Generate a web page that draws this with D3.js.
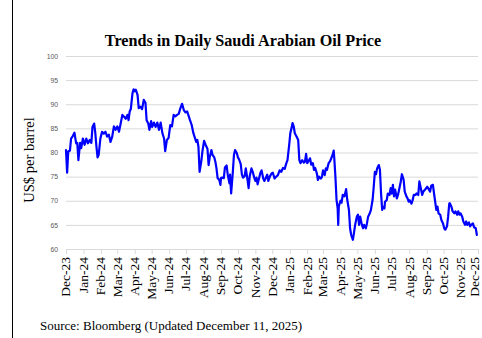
<!DOCTYPE html>
<html>
<head>
<meta charset="utf-8">
<script src="https://cdn.jsdelivr.net/npm/d3@7"></script>
<style>
  html, body { margin: 0; padding: 0; background: #fff; }
  svg { display: block; }
</style>
</head>
<body>
<svg id="chart" width="482" height="338"></svg>
<script>
// Daily Saudi Arabian oil price, US$ per barrel
const dates = [
  "2023-12-01","2023-12-03","2023-12-05","2023-12-08","2023-12-10","2023-12-13","2023-12-16","2023-12-19","2023-12-21","2023-12-23","2023-12-26","2023-12-28","2023-12-31",
  "2024-01-03","2024-01-06","2024-01-09","2024-01-12","2024-01-15","2024-01-17","2024-01-20","2024-01-22","2024-01-24","2024-01-26","2024-01-28","2024-01-31",
  "2024-02-03","2024-02-06","2024-02-09","2024-02-12","2024-02-15","2024-02-18","2024-02-21","2024-02-24","2024-02-27",
  "2024-03-01","2024-03-04","2024-03-07","2024-03-10","2024-03-13","2024-03-16","2024-03-19","2024-03-21","2024-03-23","2024-03-25","2024-03-28","2024-03-30",
  "2024-04-01","2024-04-03","2024-04-06","2024-04-08","2024-04-11","2024-04-14","2024-04-17","2024-04-20","2024-04-22","2024-04-25","2024-04-27","2024-04-30",
  "2024-05-02","2024-05-05","2024-05-08","2024-05-11","2024-05-14","2024-05-17","2024-05-20","2024-05-23","2024-05-25","2024-05-28","2024-05-31",
  "2024-06-03","2024-06-06","2024-06-09","2024-06-12","2024-06-15","2024-06-18","2024-06-21","2024-06-24","2024-06-27","2024-06-30",
  "2024-07-03","2024-07-05","2024-07-08","2024-07-11","2024-07-14","2024-07-16","2024-07-19","2024-07-21","2024-07-23","2024-07-25","2024-07-28","2024-07-30",
  "2024-08-02","2024-08-05","2024-08-08","2024-08-10","2024-08-12","2024-08-15","2024-08-17","2024-08-20","2024-08-22","2024-08-24","2024-08-26","2024-08-29","2024-08-31",
  "2024-09-01","2024-09-03","2024-09-06","2024-09-08","2024-09-11","2024-09-13","2024-09-16","2024-09-17","2024-09-19","2024-09-22","2024-09-24","2024-09-26","2024-09-29",
  "2024-10-01","2024-10-03","2024-10-06","2024-10-08","2024-10-10","2024-10-13","2024-10-15","2024-10-18","2024-10-20","2024-10-22","2024-10-25","2024-10-27","2024-10-30",
  "2024-11-01","2024-11-03","2024-11-05","2024-11-07","2024-11-10","2024-11-12","2024-11-15","2024-11-17","2024-11-19","2024-11-22","2024-11-24","2024-11-27","2024-11-30",
  "2024-12-02","2024-12-05","2024-12-08","2024-12-11","2024-12-14","2024-12-17","2024-12-20","2024-12-23","2024-12-26","2024-12-28","2024-12-31",
  "2025-01-02","2025-01-04","2025-01-06","2025-01-08","2025-01-10","2025-01-13","2025-01-16","2025-01-18","2025-01-20","2025-01-23","2025-01-26","2025-01-28","2025-01-30",
  "2025-02-01","2025-02-04","2025-02-06","2025-02-08","2025-02-11","2025-02-13","2025-02-15","2025-02-18","2025-02-20","2025-02-22","2025-02-25","2025-02-27",
  "2025-03-01","2025-03-04","2025-03-06","2025-03-08","2025-03-11","2025-03-13","2025-03-15","2025-03-18","2025-03-20","2025-03-21","2025-03-23","2025-03-25","2025-03-27","2025-03-28","2025-03-29",
  "2025-04-01","2025-04-03","2025-04-05","2025-04-08","2025-04-11","2025-04-13","2025-04-16","2025-04-18","2025-04-20","2025-04-23","2025-04-25","2025-04-27","2025-04-30",
  "2025-05-02","2025-05-04","2025-05-06","2025-05-09","2025-05-11","2025-05-13","2025-05-16","2025-05-18","2025-05-20","2025-05-23","2025-05-25","2025-05-28","2025-05-30",
  "2025-06-01","2025-06-03","2025-06-05","2025-06-08","2025-06-10","2025-06-12","2025-06-14","2025-06-15","2025-06-18","2025-06-19","2025-06-22","2025-06-24","2025-06-27","2025-06-29",
  "2025-07-01","2025-07-03","2025-07-05","2025-07-07","2025-07-10","2025-07-12","2025-07-14","2025-07-17","2025-07-19","2025-07-22","2025-07-24","2025-07-27","2025-07-29","2025-07-31",
  "2025-08-02","2025-08-05","2025-08-07","2025-08-09","2025-08-12","2025-08-14","2025-08-17","2025-08-19","2025-08-21","2025-08-24","2025-08-26","2025-08-29","2025-08-31",
  "2025-09-02","2025-09-05","2025-09-07","2025-09-09","2025-09-12","2025-09-14","2025-09-16","2025-09-18","2025-09-20","2025-09-22","2025-09-25","2025-09-27","2025-09-30",
  "2025-10-02","2025-10-04","2025-10-07","2025-10-09","2025-10-11","2025-10-12","2025-10-15","2025-10-17","2025-10-20","2025-10-22","2025-10-25","2025-10-27","2025-10-29","2025-10-31",
  "2025-11-03","2025-11-05","2025-11-08","2025-11-10","2025-11-12","2025-11-15","2025-11-17","2025-11-19","2025-11-22","2025-11-24","2025-11-27","2025-11-29"
];
const prices = [
  80.5,75.8,80.2,80.4,82.9,83.4,84.1,81.9,82.0,78.4,82.0,80.9,82.9,
  81.6,82.9,81.9,82.6,82.0,85.3,86.0,84.0,81.2,79.0,79.5,82.9,
  84.3,83.9,84.3,83.3,83.7,82.2,83.3,85.4,84.7,
  85.4,84.3,86.0,87.8,87.4,87.0,87.8,86.7,88.5,89.0,92.3,93.1,
  92.7,93.0,91.9,89.2,89.5,89.0,90.9,90.3,86.7,86.0,84.7,86.5,
  85.3,86.2,85.3,86.2,84.7,86.2,84.0,82.9,80.3,82.6,83.0,
  85.7,85.4,87.8,87.5,87.8,88.0,89.2,90.1,88.8,88.3,
  88.5,87.8,86.7,85.7,84.0,83.3,82.2,82.6,81.2,76.0,78.1,80.2,
  82.4,81.5,80.8,77.4,79.0,80.5,79.5,79.0,78.1,76.7,74.7,74.3,73.3,
  74.7,74.8,74.7,76.9,77.3,75.4,73.6,75.4,71.5,76.0,79.5,80.5,79.9,
  79.0,78.6,77.6,75.5,74.8,75.1,76.7,74.4,72.6,75.1,76.7,76.1,74.8,
  74.1,74.8,73.4,74.4,75.8,76.3,74.6,74.1,74.6,75.4,74.1,75.1,75.7,
  75.8,74.6,75.0,75.3,76.3,76.0,76.8,76.6,77.8,78.4,81.6,
  84.0,85.0,86.1,85.4,84.0,83.3,82.6,78.4,77.8,78.4,77.9,78.1,79.7,
  77.8,78.4,78.8,77.5,77.8,76.4,76.8,75.7,74.3,75.0,74.6,74.9,
  76.3,75.3,76.7,76.4,77.8,78.1,78.6,79.5,80.4,78.8,75.0,70.2,68.4,65.0,68.8,
  70.0,69.6,71.2,70.9,72.4,70.2,68.1,64.3,62.9,61.9,63.4,65.0,66.7,
  67.1,65.0,66.7,65.0,64.3,65.0,64.3,65.3,66.7,67.4,68.1,70.2,72.9,
  76.0,75.5,76.7,77.4,76.4,71.5,68.1,68.8,68.4,69.8,70.1,71.5,71.2,72.6,
  71.5,73.3,70.9,72.3,70.5,71.2,72.3,74.0,75.5,74.4,71.9,70.9,70.5,69.8,
  70.1,69.4,70.1,71.2,71.2,71.5,71.2,74.0,72.9,71.2,71.9,72.3,72.6,
  72.9,72.3,71.9,73.1,73.3,71.5,69.8,68.1,68.8,67.4,67.1,66.0,65.3,
  64.3,64.0,64.7,66.7,69.4,69.5,68.7,67.8,67.4,67.8,67.1,67.8,67.1,67.4,
  66.7,65.7,65.0,65.7,65.0,65.5,64.7,65.0,65.3,64.5,64.3,62.9
];

// Axis labels
const monthLabels = ["Dec-23","Jan-24","Feb-24","Mar-24","Apr-24","May-24","Jun-24","Jul-24","Aug-24","Sep-24","Oct-24","Nov-24",
                     "Dec-24","Jan-25","Feb-25","Mar-25","Apr-25","May-25","Jun-25","Jul-25","Aug-25","Sep-25","Oct-25","Nov-25","Dec-25"];
const yTicks = [60, 65, 70, 75, 80, 85, 90, 95, 100];

const titleText = "Trends in Daily Saudi Arabian Oil Price";
const yLabelText = "US$ per barrel";
const sourceText = "Source: Bloomberg (Updated December 11, 2025)";

const parseDay = d3.timeParse("%Y-%m-%d");
const parseMonth = d3.timeParse("%b-%y");
const series = dates.map((d, i) => ({ date: parseDay(d), value: prices[i] }));
const monthDates = monthLabels.map(parseMonth);

const svg = d3.select("#chart");
const serif = "'Liberation Serif', 'Times New Roman', serif";

// Plot frame
const plot = { left: 66, right: 478, top: 56, bottom: 249 };

const x = d3.scaleTime()
  .domain([monthDates[0], monthDates[monthDates.length - 1]])
  .range([plot.left, plot.right]);

const y = d3.scaleLinear()
  .domain([60, 100])
  .range([plot.bottom, plot.top]);

// Left page rule
svg.append("line")
  .attr("x1", 12.5).attr("x2", 12.5)
  .attr("y1", 0).attr("y2", 338)
  .attr("stroke", "#000").attr("stroke-width", 1);

// Horizontal gridlines with value labels
const yAxis = d3.axisLeft(y)
  .tickValues(yTicks)
  .tickSize(-(plot.right - plot.left))
  .tickPadding(8);

const gy = svg.append("g")
  .attr("transform", `translate(${plot.left},0)`)
  .call(yAxis);
gy.select(".domain").remove();
gy.selectAll(".tick line")
  .attr("stroke", "#d9d9d9")
  .attr("stroke-width", 1);
gy.selectAll(".tick text")
  .attr("fill", "#595959")
  .style("font-family", "'Liberation Sans', Arial, sans-serif")
  .style("font-size", "6.8px");

// Month axis with rotated labels
const xAxis = d3.axisBottom(x)
  .tickValues(monthDates)
  .tickFormat((d, i) => monthLabels[i])
  .tickSize(5)
  .tickPadding(4);

const gx = svg.append("g")
  .attr("transform", `translate(0,${plot.bottom})`)
  .call(xAxis);
gx.select(".domain")
  .attr("stroke", "#d9d9d9");
gx.selectAll(".tick line")
  .attr("stroke", "#d9d9d9");
gx.selectAll(".tick text")
  .attr("fill", "#000")
  .style("font-family", serif)
  .style("font-size", "13.5px")
  .attr("text-anchor", "end")
  .attr("transform", "rotate(-90)")
  .attr("x", -8)
  .attr("y", 0)
  // last label sits on the right edge, nudge it inward so it stays whole
  .attr("dy", (d, i) => i === monthLabels.length - 1 ? "0.05em" : "0.28em");

// Price line
const line = d3.line()
  .x(d => x(d.date))
  .y(d => y(d.value));

svg.append("path")
  .datum(series)
  .attr("fill", "none")
  .attr("stroke", "#0000ff")
  .attr("stroke-width", 2.2)
  .attr("stroke-linejoin", "round")
  .attr("stroke-linecap", "round")
  .attr("d", line);

// Title
svg.append("text")
  .attr("x", 243).attr("y", 46)
  .attr("text-anchor", "middle")
  .style("font-family", serif)
  .style("font-weight", "bold")
  .style("font-size", "16.2px")
  .text(titleText);

// Y axis title
svg.append("text")
  .attr("transform", `translate(34,160) rotate(-90)`)
  .attr("text-anchor", "middle")
  .style("font-family", serif)
  .style("font-size", "14.5px")
  .text(yLabelText);

// Source note
svg.append("text")
  .attr("x", 40).attr("y", 330)
  .style("font-family", serif)
  .style("font-size", "13px")
  .text(sourceText);
</script>
</body>
</html>
